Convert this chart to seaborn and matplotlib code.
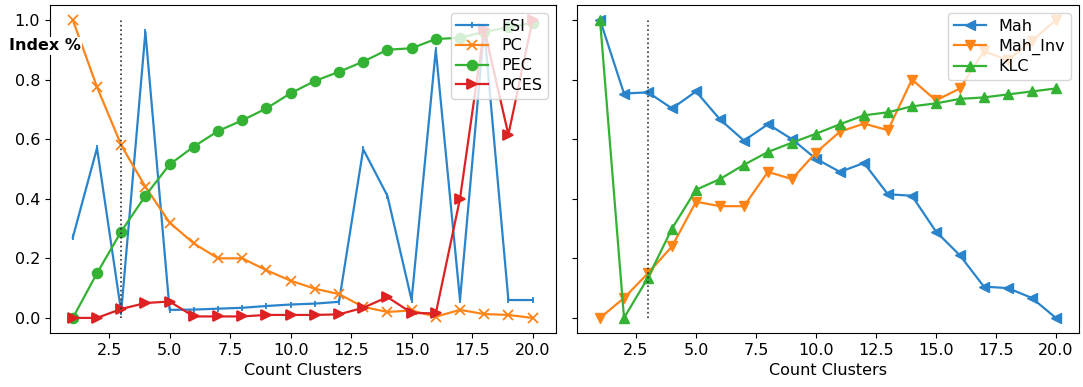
import matplotlib
matplotlib.use("Agg")
import matplotlib.pyplot as plt
import pandas as pd
import seaborn as sns

# values
clusters = list(range(1, 21))

fsi = [0.27, 0.57, 0.02, 0.96, 0.027, 0.028, 0.031, 0.034, 0.04, 0.045,
       0.048, 0.054, 0.566, 0.41, 0.06, 0.90, 0.06, 0.97, 0.06, 0.06]
pc = [1.0, 0.775, 0.58, 0.44, 0.32, 0.25, 0.20, 0.20, 0.16, 0.125,
      0.098, 0.08, 0.037, 0.02, 0.025, 0.004, 0.027, 0.013, 0.01, 0.0]
pec = [0.0, 0.15, 0.29, 0.41, 0.515, 0.575, 0.627, 0.663, 0.703, 0.754,
       0.795, 0.826, 0.86, 0.90, 0.905, 0.936, 0.94, 0.96, 0.975, 0.99]
pces = [0.0, 0.0, 0.03, 0.05, 0.055, 0.005, 0.005, 0.005, 0.01, 0.01,
        0.01, 0.012, 0.034, 0.07, 0.017, 0.015, 0.40, 0.97, 0.615, 1.0]

mah = [1.0, 0.753, 0.757, 0.703, 0.76, 0.666, 0.595, 0.65, 0.60, 0.534,
       0.49, 0.52, 0.415, 0.41, 0.29, 0.21, 0.105, 0.10, 0.067, 0.0]
mah_inv = [0.0, 0.067, 0.15, 0.24, 0.39, 0.375, 0.375, 0.49, 0.466, 0.555,
           0.625, 0.652, 0.63, 0.80, 0.73, 0.77, 0.895, 0.865, 0.93, 1.0]
klc = [1.0, 0.0, 0.135, 0.30, 0.43, 0.466, 0.514, 0.557, 0.588, 0.618,
       0.65, 0.68, 0.69, 0.71, 0.72, 0.735, 0.74, 0.75, 0.76, 0.77]

chosen_k = 3

left = pd.DataFrame({"Count Clusters": clusters, "FSI": fsi, "PC": pc,
                     "PEC": pec, "PCES": pces})
right = pd.DataFrame({"Count Clusters": clusters, "Mah": mah,
                      "Mah_Inv": mah_inv, "KLC": klc})

blue, orange, green, red = "#2a84cc", "#ff8418", "#33b233", "#dc2222"

fig = plt.figure(figsize=(10.83, 3.87), dpi=100)
ax1 = fig.add_axes([0.046, 0.14, 0.467, 0.847])
ax2 = fig.add_axes([0.533, 0.14, 0.463, 0.847], sharey=ax1)

# (name, colour, marker, size)
left_styles = [("FSI", blue, "|", 4), ("PC", orange, "x", 7),
               ("PEC", green, "o", 7), ("PCES", red, ">", 7)]
for name, c, m, s in left_styles:
    sns.lineplot(data=left, x="Count Clusters", y=name, ax=ax1, label=name,
                 color=c, marker=m, markersize=s, markeredgecolor=c,
                 markeredgewidth=1.3, linewidth=1.6)

right_styles = [("Mah", blue, "<"), ("Mah_Inv", orange, "v"),
                ("KLC", green, "^")]
for name, c, m in right_styles:
    sns.lineplot(data=right, x="Count Clusters", y=name, ax=ax2, label=name,
                 color=c, marker=m, markersize=7.5, markeredgecolor=c,
                 markeredgewidth=1, linewidth=1.6)

for ax in (ax1, ax2):
    ax.vlines(chosen_k, 0, 1, colors="#333333", linestyles=":", linewidth=1.2)
    ax.set_ylabel("")
    ax.set_xlabel("Count Clusters", fontsize=11.5)
    ax.tick_params(labelsize=11.5)
    ax.legend(loc="upper right", fontsize=11.5, borderaxespad=0.5,
              handlelength=2.0, labelspacing=0.3, borderpad=0.35)
    ax.margins(x=0.05, y=0.05)

ax2.tick_params(labelleft=False)

fig.text(0.008, 0.882, "Index %", fontsize=11.5, fontweight="bold",
         ha="left", va="center",
         bbox=dict(facecolor="white", edgecolor="none", pad=1))

fig.savefig("out.png", dpi=100)
